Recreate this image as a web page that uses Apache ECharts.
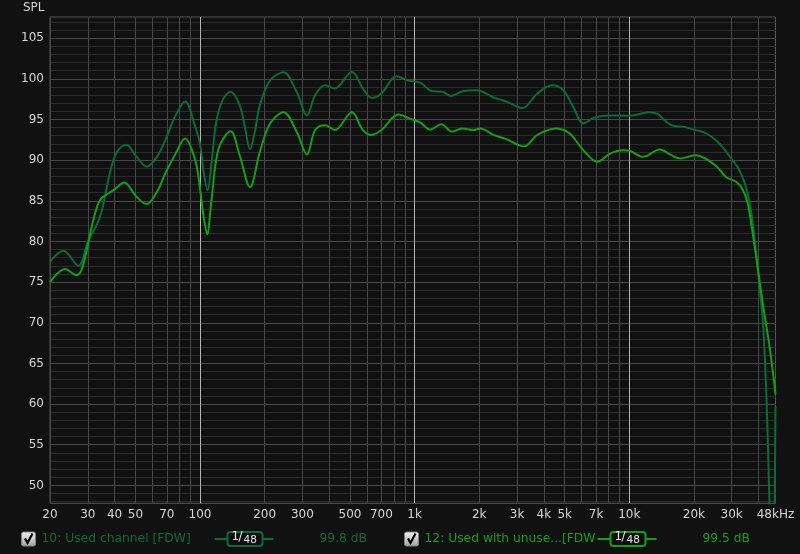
<!DOCTYPE html>
<html>
<head>
<meta charset="utf-8">
<script src="https://cdn.jsdelivr.net/npm/echarts@6/dist/echarts.min.js"></script>
<style>
html,body{margin:0;padding:0;background:#111111;}
#c{width:800px;height:554px;}
</style>
</head>
<body>
<div id="c"></div>
<script>
// ---- data ----
const freqUsed = [20, 23.1, 27.1, 30, 34.2, 38, 41, 45.3, 50, 56.4, 63, 70, 77, 85.2, 95, 100, 104, 108.5, 113, 119, 128, 139, 153, 162, 171, 180, 190, 212, 245, 282, 315, 344, 383, 424, 510, 574, 632, 700, 824, 930, 1065, 1200, 1350, 1476, 1690, 1950, 2330, 2680, 3180, 3730, 4370, 4930, 5480, 6120, 6810, 8140, 10050, 11100, 12400, 13600, 14900, 16100, 17900, 20000, 22600, 24800, 27200, 30000, 32200, 34600, 36400, 37800, 39200, 40600, 42100, 43600, 46500, 48000];
const splUsed  = [77.5, 78.85, 77.0, 79.95, 83.0, 88.4, 91.0, 91.9, 90.6, 89.2, 90.4, 92.9, 95.5, 97.2, 94.1, 92.0, 88.5, 86.3, 89.5, 94.7, 97.5, 98.4, 96.75, 94.0, 91.35, 93.5, 96.75, 99.8, 100.8, 98.4, 95.5, 98.0, 99.2, 98.8, 100.85, 98.8, 97.65, 98.2, 100.3, 99.8, 99.5, 98.5, 98.4, 97.9, 98.5, 98.6, 97.7, 97.2, 96.4, 98.2, 99.2, 98.6, 96.55, 94.5, 95.2, 95.5, 95.45, 95.65, 95.9, 95.65, 94.7, 94.2, 94.1, 93.75, 93.35, 92.65, 91.6, 90.1, 89.0, 87.1, 84.7, 81.8, 78.1, 74.0, 69.5, 60.5, 38.0, 59.7];

const freqUnused = [20, 23.5, 26.6, 28.4, 31.8, 34.2, 37.3, 40, 44.3, 50.6, 56.4, 63, 69, 77, 85, 95, 100, 104, 108, 113, 122, 139, 153, 171, 190, 212, 245, 282, 315, 344, 383, 424, 510, 574, 632, 700, 840, 950, 1065, 1180, 1330, 1495, 1660, 1880, 2020, 2330, 2640, 3240, 3730, 4530, 5260, 6120, 7090, 8140, 9380, 10000, 11600, 13900, 15500, 17300, 20300, 22600, 25600, 28300, 31600, 33900, 35600, 37200, 39200, 42100, 45300, 48000];
const splUnused  = [75.0, 76.6, 75.85, 76.9, 82.6, 85.1, 85.9, 86.4, 87.25, 85.5, 84.6, 86.1, 88.4, 90.8, 92.65, 90.0, 86.5, 83.0, 80.9, 85.0, 91.4, 93.55, 90.6, 86.7, 91.0, 94.5, 95.9, 93.5, 90.7, 93.7, 94.3, 93.7, 95.9, 93.7, 93.1, 93.7, 95.6, 95.1, 94.6, 93.75, 94.4, 93.5, 93.9, 93.7, 93.9, 93.1, 92.65, 91.7, 93.1, 93.9, 93.3, 91.2, 89.8, 90.8, 91.2, 91.15, 90.4, 91.3, 90.7, 90.2, 90.6, 90.2, 89.2, 87.9, 87.3, 86.3, 84.7, 81.8, 77.7, 72.0, 66.6, 61.2];

const xLabelFreqs = [20, 30, 40, 50, 70, 100, 200, 300, 500, 700, 1000, 2000, 3000, 4000, 5000, 7000, 10000, 20000, 30000, 48000];
const xLabelTexts = ['20', '30', '40', '50', '70', '100', '200', '300', '500', '700', '1k', '2k', '3k', '4k', '5k', '7k', '10k', '20k', '30k', '48kHz'];
const xMinorFreqs = [20, 30, 40, 50, 60, 70, 80, 90, 200, 300, 400, 500, 600, 700, 800, 900, 2000, 3000, 4000, 5000, 6000, 7000, 8000, 9000, 20000, 30000, 40000];
const xDecadeFreqs = [100, 1000, 10000];
const yLabelValues = [50, 55, 60, 65, 70, 75, 80, 85, 90, 95, 100, 105];
const yMinorValues = [48, 49, 51, 52, 53, 54, 56, 57, 58, 59, 61, 62, 63, 64, 66, 67, 68, 69, 71, 72, 73, 74, 76, 77, 78, 79, 81, 82, 83, 84, 86, 87, 88, 89, 91, 92, 93, 94, 96, 97, 98, 99, 101, 102, 103, 104, 106, 107];

const legendItems = [
  {name: '10: Used channel [FDW]', value: '99.8 dB'},
  {name: '12: Used with unuse...[FDW', value: '99.5 dB'}
];

const X_MIN = 20, X_MAX = 48000, Y_MIN = 47.8, Y_MAX = 107.6;
const C_USED = '#0c6b3a', C_UNUSED = '#14a014';
const FONT = 'DejaVu Sans';

const chart = echarts.init(document.getElementById('c'), null, {renderer: 'canvas'});

const lg = v => Math.log10(v);
function xFmt(v) {
  const i = xLabelFreqs.findIndex(f => Math.abs(lg(f) - v) < 1e-6);
  return i >= 0 ? xLabelTexts[i] : '';
}

function legendGroup(x0, item, color) {
  return {
    type: 'group', left: x0, top: 531,
    children: [
      {type: 'rect', shape: {x: 0, y: 1, width: 14, height: 14, r: 2},
       style: {fill: new echarts.graphic.LinearGradient(0, 0, 0, 1, [{offset: 0, color: '#f4f4f4'}, {offset: 1, color: '#a0a0a0'}]), stroke: '#808080', lineWidth: 1}},
      {type: 'polyline', shape: {points: [[3.5, 7.5], [6, 12], [11, 2.5]]},
       style: {stroke: '#000', lineWidth: 2.2, fill: null, lineJoin: 'miter'}},
      {type: 'text', x: 20, y: 1.5, style: {text: item.name, fill: color, font: '12.3px ' + FONT}},
      {type: 'line', shape: {x1: 193, y1: 8, x2: 252, y2: 8}, style: {stroke: color, lineWidth: 2}},
      {type: 'rect', shape: {x: 206, y: 1, width: 35, height: 14, r: 3}, style: {fill: '#0d0d0d', stroke: color, lineWidth: 2}},
      {type: 'text', x: 210, y: 0, style: {text: '1', fill: '#e8e8e8', font: '12px ' + FONT}},
      {type: 'text', x: 217, y: 0, style: {text: '/', fill: '#e8e8e8', font: '12px ' + FONT}},
      {type: 'text', x: 222, y: 3.5, style: {text: '48', fill: '#e8e8e8', font: '10.5px ' + FONT}},
      {type: 'text', x: 298, y: 1.5, style: {text: item.value, fill: color, font: '12.3px ' + FONT}}
    ]
  };
}

const option = {
  backgroundColor: '#111111',
  animation: false,
  textStyle: {fontFamily: FONT},
  grid: {left: 50, top: 17, width: 725.5, height: 486.3, show: true, borderColor: '#555555', borderWidth: 1, backgroundColor: '#111111', containLabel: false, outerBoundsMode: 'none'},
  xAxis: [
    {type: 'log', logBase: 10, min: X_MIN, max: X_MAX, show: true,
     axisLine: {show: false}, axisTick: {show: false}, axisLabel: {show: false}, splitLine: {show: false}},
    {type: 'value', min: lg(X_MIN), max: lg(X_MAX), position: 'bottom',
     axisLine: {show: false},
     axisTick: {show: false, customValues: xMinorFreqs.map(lg)},
     splitLine: {show: true, lineStyle: {color: '#484848', width: 1}},
     axisLabel: {show: true, customValues: xLabelFreqs.map(lg), formatter: xFmt, color: '#d6d6d6', fontSize: 12, fontFamily: FONT, margin: 6}},
    {type: 'value', min: lg(X_MIN), max: lg(X_MAX), position: 'bottom',
     axisLine: {show: false},
     axisTick: {show: false, customValues: xDecadeFreqs.map(lg)},
     splitLine: {show: true, lineStyle: {color: '#b4b4b4', width: 1}},
     axisLabel: {show: false}}
  ],
  yAxis: [
    {type: 'value', min: Y_MIN, max: Y_MAX,
     axisLine: {show: false},
     axisTick: {show: false, customValues: yMinorValues},
     splitLine: {show: true, lineStyle: {color: '#2a2a2a', width: 1}},
     axisLabel: {show: true, customValues: yLabelValues, color: '#d6d6d6', fontSize: 12, fontFamily: FONT, margin: 6}},
    {type: 'value', min: Y_MIN, max: Y_MAX,
     axisLine: {show: false},
     axisTick: {show: false, customValues: yLabelValues},
     splitLine: {show: true, lineStyle: {color: '#484848', width: 1}},
     axisLabel: {show: false}}
  ],
  series: [
    {type: 'line', name: legendItems[0].name, xAxisIndex: 0, yAxisIndex: 0,
     data: freqUsed.map((f, i) => [f, splUsed[i]]),
     showSymbol: false, smooth: 0.35, clip: true,
     lineStyle: {color: C_USED, width: 2}, z: 3},
    {type: 'line', name: legendItems[1].name, xAxisIndex: 0, yAxisIndex: 0,
     data: freqUnused.map((f, i) => [f, splUnused[i]]),
     showSymbol: false, smooth: 0.35, clip: true,
     lineStyle: {color: C_UNUSED, width: 2}, z: 4}
  ],
  graphic: [
    {type: 'text', left: 23, top: 2, style: {text: 'SPL', fill: '#d6d6d6', font: '12px ' + FONT}},
    legendGroup(21, legendItems[0], C_USED),
    legendGroup(404, legendItems[1], C_UNUSED)
  ]
};
chart.setOption(option);
</script>
</body>
</html>
